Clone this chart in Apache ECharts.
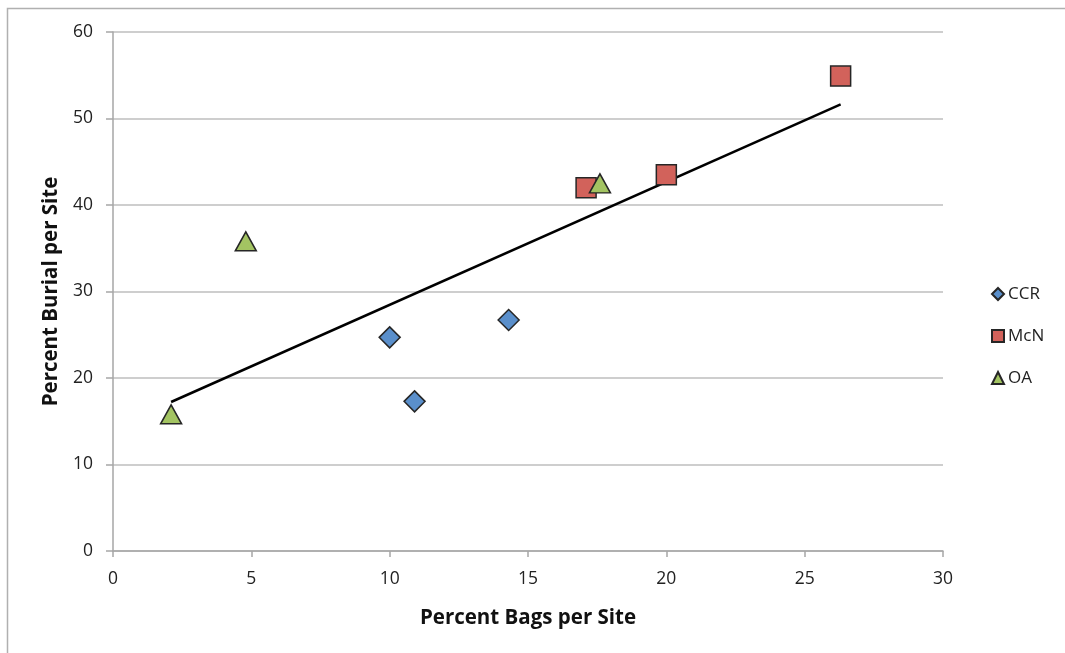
<!DOCTYPE html>
<html>
<head>
<meta charset="utf-8">
<script src="https://cdn.jsdelivr.net/npm/echarts@6/dist/echarts.min.js"></script>
<style>
  html, body { margin: 0; padding: 0; background: #fff; }
  #chart { width: 1065px; height: 653px; }
</style>
</head>
<body>
<div id="chart"></div>
<script>
// Site groups and their (bags %, burial %) pairs
const seriesNames = ['CCR', 'McN', 'OA'];
const ccrPoints = [[10.0, 24.7], [10.9, 17.3], [14.3, 26.7]];
const mcnPoints = [[17.1, 42.0], [20.0, 43.5], [26.3, 54.9]];
const oaPoints = [[2.1, 15.8], [4.8, 35.8], [17.6, 42.5]];
const xTicks = [0, 5, 10, 15, 20, 25, 30];
const yTicks = [0, 10, 20, 30, 40, 50, 60];

// Least-squares trend line over all sites
function trend(points) {
  const n = points.length;
  const mx = points.reduce((s, p) => s + p[0], 0) / n;
  const my = points.reduce((s, p) => s + p[1], 0) / n;
  let sxy = 0, sxx = 0;
  points.forEach(p => { sxy += (p[0] - mx) * (p[1] - my); sxx += (p[0] - mx) ** 2; });
  const b = sxy / sxx, a = my - b * mx;
  const xs = points.map(p => p[0]);
  const x0 = Math.min(...xs), x1 = Math.max(...xs);
  return [[x0, a + b * x0], [x1, a + b * x1]];
}
const allPoints = ccrPoints.concat(mcnPoints, oaPoints);
const trendLine = trend(allPoints);

const font = '"Open Sans", "DejaVu Sans", sans-serif';
const chart = echarts.init(document.getElementById('chart'), null, { renderer: 'canvas' });
const edge = '#262626';

chart.setOption({
  animation: false,
  backgroundColor: '#fff',
  graphic: [{
    type: 'rect', left: 5, top: 6,
    shape: { width: 1100, height: 700 },
    style: { fill: 'none', stroke: '#B0B0B0', lineWidth: 1.5 },
    silent: true, z: -1
  }],
  grid: { left: 113, right: 122, top: 32, bottom: 102 },
  legend: {
    orient: 'vertical', left: 986, top: 279, itemGap: 22,
    itemWidth: 12, itemHeight: 12,
    data: seriesNames,
    textStyle: { fontFamily: font, fontSize: 17, lineHeight: 20, color: '#222', padding: [0, 0, 0, -1] }
  },
  xAxis: {
    type: 'value', min: 0, max: 30, interval: 5,
    name: 'Percent Bags per Site', nameLocation: 'middle', nameGap: 57,
    nameTextStyle: { fontFamily: font, fontSize: 20.5, fontWeight: 'bold', color: '#111' },
    axisLine: { lineStyle: { color: '#A6A6A6', width: 1.5 } },
    axisTick: { show: true, length: 6, lineStyle: { color: '#A6A6A6', width: 1.5 } },
    axisLabel: { fontFamily: font, fontSize: 17.5, color: '#222', margin: 19,
      formatter: v => xTicks.includes(v) ? String(v) : '' },
    splitLine: { show: false }
  },
  yAxis: {
    type: 'value', min: 0, max: 60, interval: 10,
    name: 'Percent Burial per Site', nameLocation: 'middle', nameGap: 51,
    nameTextStyle: { fontFamily: font, fontSize: 20.5, fontWeight: 'bold', color: '#111' },
    axisLine: { show: true, lineStyle: { color: '#A6A6A6', width: 1.5 } },
    axisTick: { show: true, length: 7, lineStyle: { color: '#A6A6A6', width: 1.5 } },
    axisLabel: { fontFamily: font, fontSize: 17.5, color: '#222', margin: 20,
      formatter: v => yTicks.includes(v) ? String(v) : '' },
    splitLine: { show: true, lineStyle: { color: '#BEBEBE', width: 1.5 } }
  },
  series: [
    {
      name: 'Trend', type: 'line', data: trendLine, symbol: 'none',
      lineStyle: { color: '#000', width: 2.5 }, z: 3, silent: true
    },
    {
      name: 'CCR', type: 'scatter', data: ccrPoints, symbol: 'diamond', symbolSize: [21, 21],
      itemStyle: { color: '#5A8FCB', borderColor: edge, borderWidth: 1.5, opacity: 1 }, z: 4
    },
    {
      name: 'McN', type: 'scatter', data: mcnPoints, symbol: 'rect', symbolSize: [20, 20],
      itemStyle: { color: '#D2625B', borderColor: edge, borderWidth: 1.5, opacity: 1 }, z: 4
    },
    {
      name: 'OA', type: 'scatter', data: oaPoints, symbol: 'triangle', symbolSize: [21, 19],
      itemStyle: { color: '#A3C462', borderColor: edge, borderWidth: 1.5, opacity: 1 }, z: 5
    }
  ]
});
</script>
</body>
</html>
